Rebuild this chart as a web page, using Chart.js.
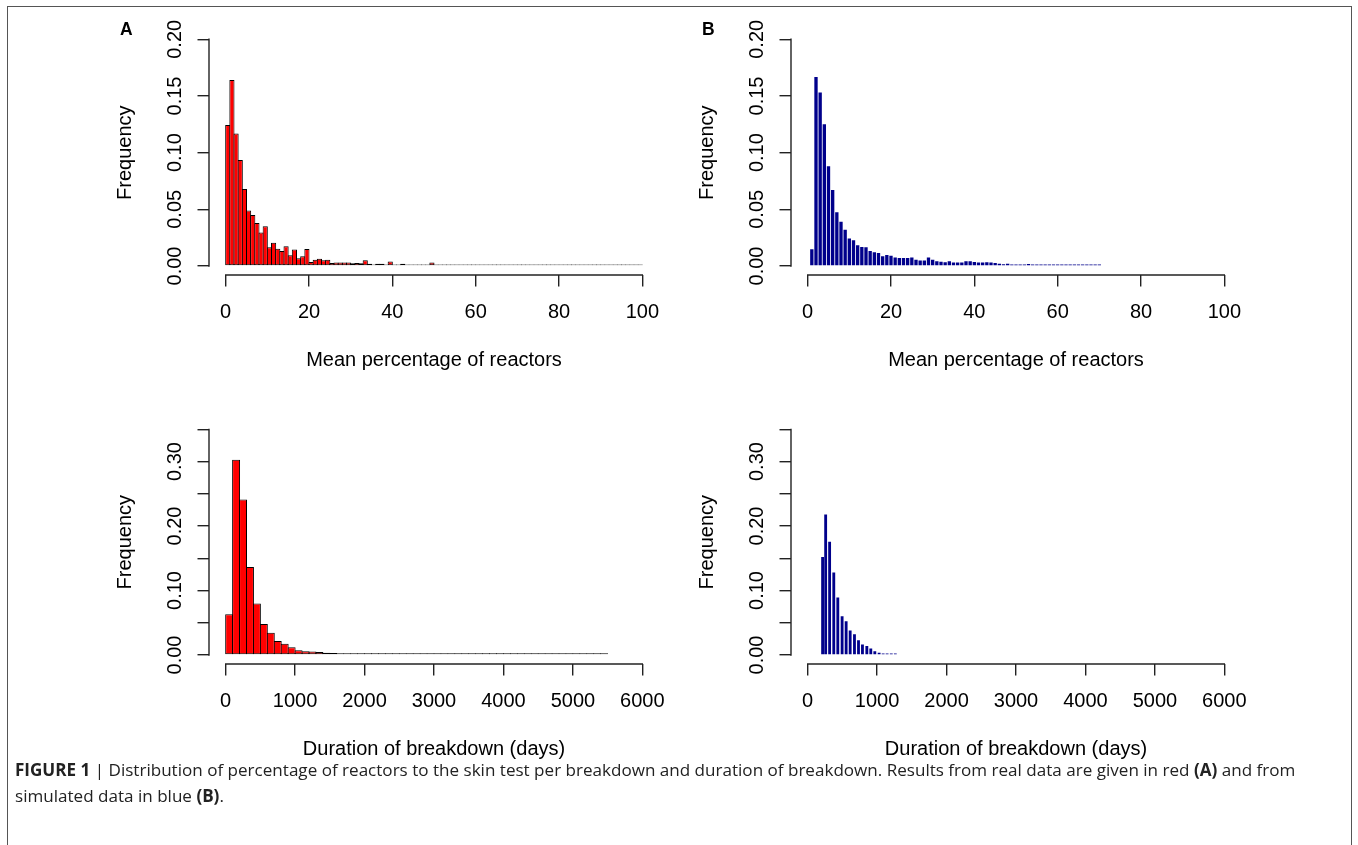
<!DOCTYPE html>
<html>
<head>
<meta charset="utf-8">
<script src="https://cdn.jsdelivr.net/npm/chart.js@4.4.1/dist/chart.umd.min.js"></script>
<style>
html,body{margin:0;padding:0;background:#fff;}
body{width:1358px;height:845px;position:relative;overflow:hidden;font-family:"Liberation Sans",Arial,Helvetica,sans-serif;}
#frame{position:absolute;left:7px;top:6px;width:1345px;height:900px;border:1px solid #555;box-sizing:border-box;}
canvas{position:absolute;}
.lbl{position:absolute;font-weight:bold;font-size:17.5px;line-height:17px;color:#000;}
#caption{position:absolute;left:15px;top:757px;font-family:"Open Sans","Liberation Sans",Arial,sans-serif;font-size:16px;line-height:26px;color:#222;white-space:nowrap;}
</style>
</head>
<body>
<div id="frame"></div>
<canvas id="pTL"></canvas>
<canvas id="pTR"></canvas>
<canvas id="pBL"></canvas>
<canvas id="pBR"></canvas>
<div class="lbl" style="left:120px;top:21px;">A</div>
<div class="lbl" style="left:702px;top:21px;">B</div>
<div id="caption"><span id="capline1"><b>FIGURE 1</b> | Distribution of percentage of reactors to the skin test per breakdown and duration of breakdown. Results from real data are given in red <b>(A)</b> and from</span><br>simulated data in blue <b>(B)</b>.</div>
<script>
// ---------- data ----------
// Panel A (top): real data, mean percentage of reactors, bins of width 1 (bin starts)
const pctBinStart = [0,1,2,3,4,5,6,7,8,9,10,11,12,13,14,15,16,17,18,19,20,21,22,23,24,25,26,27,28,29,30,31,32,33,34,35,36,37,38,39,40,41,42,43,44,45,46,47,48,49,50,51,52,53,54,55,56,57,58,59,60,61,62,63,64,65,66,67,68,69,70,71,72,73,74,75,76,77,78,79,80,81,82,83,84,85,86,87,88,89,90,91,92,93,94,95,96,97,98,99];
const realPctFreq = [
  0.1245,0.164,0.117,0.0935,0.068,0.049,0.045,0.038,0.0295,0.035,
  0.0165,0.0205,0.0153,0.0133,0.0175,0.0094,0.0145,0.0068,0.0085,0.015,
  0.0035,0.0055,0.0063,0.005,0.0056,0.0027,0.003,0.003,0.003,0.003,
  0.0025,0.0027,0.0025,0.005,0.002,0.0012,0.002,0.002,0.0012,0.004,
  0.0012,0.001,0.002,0.001,0.0011,0.0009,0.0012,0.0009,0.0008,0.003,
  0.0008,0.0006,0.0007,0.0005,0.0006,0.0005,0.0006,0.0005,0.0006,0.0013,
  0.0005,0.0006,0.0005,0.0004,0.0005,0.0004,0.0005,0.0004,0.0006,0.0004,
  0.0004,0.0005,0.0004,0.0003,0.0004,0.0003,0.0004,0.0003,0.0004,0.0011,
  0.0003,0.0004,0.0003,0.0009,0.0003,0.0003,0.0004,0.0003,0.0008,0.0003,
  0.0003,0.0002,0.0003,0.0002,0.0003,0.0002,0.0002,0.0003,0.0002,0.0004];

// Panel B (top): simulated data, mean percentage of reactors (bar positions)
const simPctX = [1,2,3,4,5,6,7,8,9,10,11,12,13,14,15,16,17,18,19,20,21,22,23,24,25,26,27,28,29,30,31,32,33,34,35,36,37,38,39,40,41,42,43,44,45,46,47,48,49,50,51,52,53,54,55,56,57,58,59,60,61,62,63,64,65,66,67,68,69,70];
const simPctFreq = [
  0.0147,0.1667,0.153,0.125,0.088,0.067,0.0475,0.039,0.032,0.0242,
  0.0227,0.0183,0.0168,0.0165,0.0133,0.0121,0.0115,0.0085,0.0098,0.009,
  0.0074,0.007,0.007,0.007,0.0075,0.0056,0.0048,0.0048,0.0075,0.0055,
  0.0041,0.0038,0.0033,0.0041,0.003,0.003,0.003,0.0042,0.0042,0.0036,
  0.003,0.003,0.0032,0.003,0.0027,0.002,0.0016,0.002,0.0013,0.0013,
  0.0013,0.0013,0.0018,0.0012,0.0011,0.001,0.001,0.0009,0.0009,0.0008,
  0.0006,0.0006,0.0005,0.0006,0.0005,0.0005,0.0004,0.0005,0.0004,0.0004];

// Panel A (bottom): real data, duration of breakdown, bins of width 100 days (bin starts)
const durBinStart = [0,100,200,300,400,500,600,700,800,900,1000,1100,1200,1300,1400,1500,1600,1700,1800,1900,2000,2100,2200,2300,2400,2500,2600,2700,2800,2900,3000,3100,3200,3300,3400,3500,3600,3700,3800,3900,4000,4100,4200,4300,4400,4500,4600,4700,4800,4900,5000,5100,5200,5300,5400];
const realDurFreq = [
  0.063,0.303,0.241,0.1366,0.08,0.048,0.0345,0.0216,0.0175,0.0119,
  0.0072,0.0057,0.0052,0.0046,0.0036,0.003,0.0026,0.002,0.0017,0.0015,
  0.0013,0.0012,0.001,0.0009,0.0008,0.0008,0.0007,0.0006,0.0006,0.0005,
  0.0005,0.0004,0.0004,0.0004,0.0003,0.0003,0.0003,0.0003,0.0003,0.0002,
  0.0002,0.0002,0.0002,0.0002,0.0002,0.0002,0.0002,0.0002,0.0002,0.0002,
  0.0002,0.0002,0.0002,0.0002,0.0002];

// Panel B (bottom): simulated data, duration of breakdown (bar positions, days)
const simDurX = [215,259,316,376,434,496,554,612,674,732,789,852,909,967,1029,1087,1144,1204,1262];
const simDurFreq = [0.152,0.218,0.1755,0.128,0.089,0.060,0.0525,0.038,0.032,0.023,0.0162,0.014,0.010,0.0056,0.0035,0.002,0.0012,0.001,0.001];

// axes
const pctTicks = [0,20,40,60,80,100];
const durTicks = [0,1000,2000,3000,4000,5000,6000];
const freqTicksTop = [0,0.05,0.10,0.15,0.20];
const freqLabelsTop = ['0.00','0.05','0.10','0.15','0.20'];
const freqTicksBottom = [0,0.05,0.10,0.15,0.20,0.25,0.30,0.35];
const freqLabelsBottom = ['0.00','','0.10','','0.20','','0.30',''];
const pctRange = [-4,104];
const durRange = [-240,6240];
const freqRangeTop = [-0.008,0.208];
const freqRangeBottom = [-0.014,0.364];
const pctTitle = 'Mean percentage of reactors';
const durTitle = 'Duration of breakdown (days)';
const yTitle = 'Frequency';

// ---------- styling ----------
const FAMILY = '"Liberation Sans", Arial, Helvetica, sans-serif';
const FONT = {size: 20, family: FAMILY, lineHeight: 1.2};
const AXIS_COLOR = '#222';
const AXIS_W = 1.4;
const TICK_LEN = 11.5;
Chart.defaults.font.family = FAMILY;
Chart.defaults.color = '#000';

const rAxes = {
  id: 'rAxes',
  afterDraw(chart) {
    const {ctx, chartArea, scales} = chart;
    const x = scales.x, y = scales.y;
    ctx.save();
    ctx.strokeStyle = AXIS_COLOR;
    ctx.lineWidth = AXIS_W;
    ctx.lineCap = 'butt';
    const xb = Math.round(x.top);
    const x0 = x.getPixelForValue(x.ticks[0].value);
    const x1 = x.getPixelForValue(x.ticks[x.ticks.length - 1].value);
    ctx.beginPath();
    ctx.moveTo(x0 - AXIS_W / 2, xb);
    ctx.lineTo(x1 + AXIS_W / 2, xb);
    ctx.stroke();
    const yl = Math.round(y.right);
    const y0 = y.getPixelForValue(y.ticks[0].value);
    const y1 = y.getPixelForValue(y.ticks[y.ticks.length - 1].value);
    ctx.beginPath();
    ctx.moveTo(yl, y0 + AXIS_W / 2);
    ctx.lineTo(yl, y1 - AXIS_W / 2);
    ctx.stroke();
    ctx.fillStyle = '#000';
    ctx.font = FONT.size + 'px ' + FAMILY;
    ctx.textAlign = 'center';
    ctx.textBaseline = 'alphabetic';
    y.ticks.forEach(t => {
      if (!t.label) return;
      ctx.save();
      ctx.translate(chartArea.left - 28, y.getPixelForValue(t.value));
      ctx.rotate(-Math.PI / 2);
      ctx.fillText(t.label, 0, 0);
      ctx.restore();
    });
    ctx.restore();
  }
};

function panel(id, box, area, makeDataset, xr, yr, xTicks, yTicks, yLabels, xTitle, titleBaseline) {
  const cv = document.getElementById(id);
  cv.width = box.width; cv.height = box.height;
  cv.style.left = box.left + 'px'; cv.style.top = box.top + 'px';
  const pxPerUnit = (area.right - area.left) / (xr[1] - xr[0]);
  const padB = (box.top + box.height) - (titleBaseline - 6.9) - FONT.size * FONT.lineHeight / 2;
  const gridCfg = {display: true, drawOnChartArea: false, drawTicks: true, tickLength: TICK_LEN,
                   color: AXIS_COLOR, lineWidth: AXIS_W, offset: false};
  new Chart(cv, {
    type: 'bar',
    data: {datasets: [makeDataset(pxPerUnit)]},
    options: {
      responsive: false, maintainAspectRatio: false, animation: false, events: [],
      layout: {padding: {left: 0, top: area.top - box.top, right: box.left + box.width - area.right, bottom: 0}},
      plugins: {legend: {display: false}, tooltip: {enabled: false}, title: {display: false}},
      scales: {
        x: {
          type: 'linear', min: xr[0], max: xr[1], offset: false,
          grid: gridCfg, border: {display: false},
          ticks: {autoSkip: false, maxRotation: 0, minRotation: 0, padding: 13.5, font: FONT, color: '#000',
                  callback: v => String(v)},
          afterBuildTicks: s => { s.ticks = xTicks.map(v => ({value: v})); },
          afterFit: s => { s.height = box.top + box.height - area.bottom; },
          title: {display: true, text: xTitle, font: FONT, color: '#000', padding: {top: 0, bottom: padB}}
        },
        y: {
          type: 'linear', min: yr[0], max: yr[1],
          grid: gridCfg, border: {display: false},
          ticks: {display: false, callback: (v, i) => yLabels[i]},
          afterBuildTicks: s => { s.ticks = yTicks.map(v => ({value: v})); },
          afterFit: s => { s.width = area.left - box.left; },
          title: {display: true, text: yTitle, font: FONT, color: '#000', padding: {top: 13.5, bottom: 0}}
        }
      }
    },
    plugins: [rAxes]
  });
}

// R-style histogram: adjacent bars share a 1px black outline centred on each bin edge
function redHist(starts, width, freq) {
  return pxPerUnit => ({
    data: starts.map((s, i) => ({x: s + width / 2, y: freq[i]})),
    backgroundColor: '#ff0000', borderColor: '#000', borderWidth: 1, borderSkipped: false,
    barPercentage: 1 + 1 / (width * pxPerUnit), categoryPercentage: 1, inflateAmount: 0, minBarLength: 1.6
  });
}
function blueBars(xs, freq, pct) {
  return () => ({
    data: xs.map((x, i) => ({x: x, y: freq[i]})),
    backgroundColor: '#00008b', borderWidth: 0,
    barPercentage: pct, categoryPercentage: 1, inflateAmount: 0, minBarLength: 1.5
  });
}

const topArea = {top: 30.23, bottom: 275.07};
const botArea = {top: 420.3, bottom: 664.0};

panel('pTL', {left: 100, top: 0, width: 600, height: 390},
      {left: 209, right: 659, top: topArea.top, bottom: topArea.bottom},
      redHist(pctBinStart, 1, realPctFreq), pctRange, freqRangeTop, pctTicks, freqTicksTop, freqLabelsTop, pctTitle, 367.3);
panel('pTR', {left: 682, top: 0, width: 600, height: 390},
      {left: 791, right: 1241, top: topArea.top, bottom: topArea.bottom},
      blueBars(simPctX, simPctFreq, 0.8), pctRange, freqRangeTop, pctTicks, freqTicksTop, freqLabelsTop, pctTitle, 367.3);
panel('pBL', {left: 100, top: 390, width: 600, height: 390},
      {left: 209, right: 659, top: botArea.top, bottom: botArea.bottom},
      redHist(durBinStart, 100, realDurFreq), durRange, freqRangeBottom, durTicks, freqTicksBottom, freqLabelsBottom, durTitle, 756.2);
panel('pBR', {left: 682, top: 390, width: 600, height: 390},
      {left: 791, right: 1241, top: botArea.top, bottom: botArea.bottom},
      blueBars(simDurX, simDurFreq, 0.93), durRange, freqRangeBottom, durTicks, freqTicksBottom, freqLabelsBottom, durTitle, 756.2);

// fit the caption's first line to the reference length (about 1281 px) via font size
(function () {
  const cap = document.getElementById('caption');
  const line = document.getElementById('capline1');
  const w = line.getBoundingClientRect().width;
  const size = Math.min(18, Math.max(14, 16 * 1281 / w));
  cap.style.fontSize = size.toFixed(2) + 'px';
})();
</script>
</body>
</html>
